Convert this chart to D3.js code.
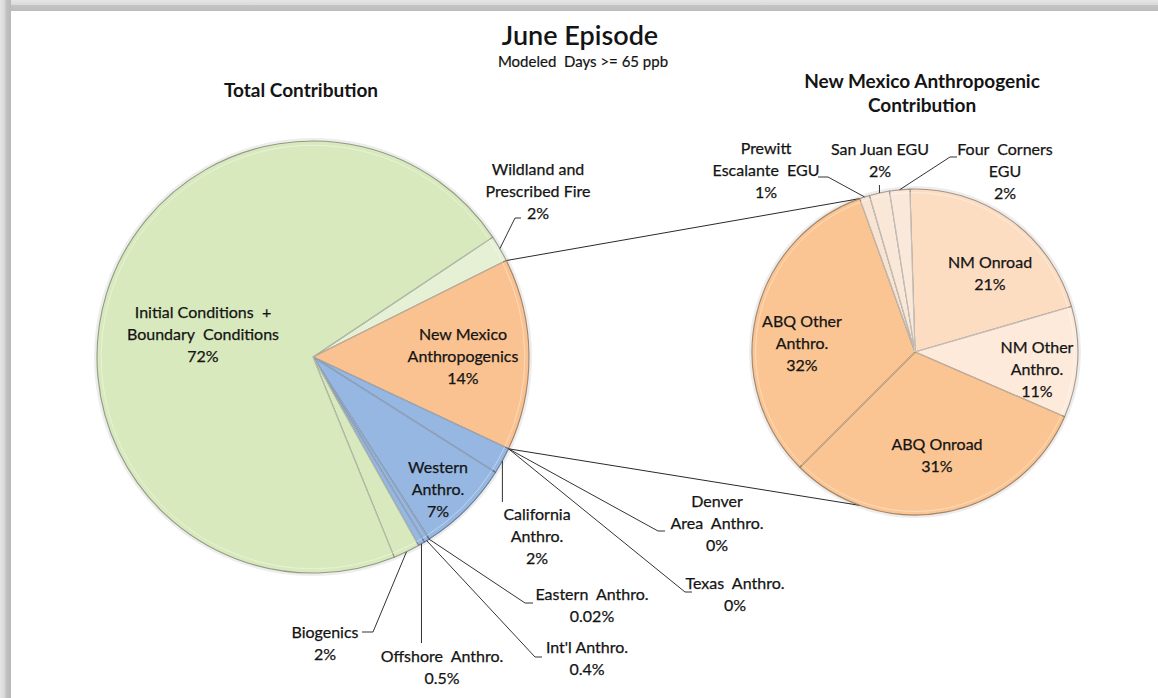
<!DOCTYPE html>
<html><head><meta charset="utf-8">
<script src="https://cdn.jsdelivr.net/npm/d3@7"></script>
<style>
body{margin:0;background:#fff;}
svg{display:block;}
text{font-family:Lato,"Open Sans",sans-serif;fill:#141414;}
</style>
</head><body>
<svg id="chart" width="1158" height="698"></svg>
<script>
// ---------- data ----------
const totalCategories = ["Wildland and Prescribed Fire","New Mexico Anthropogenics","Denver Area Anthro.","Texas Anthro.","California Anthro.","Western Anthro.","Eastern Anthro.","Int'l Anthro.","Offshore Anthro.","Biogenics","Initial Conditions + Boundary Conditions"];
const totalValues = [2, 14.4, 0, 0, 2, 7, 0.02, 0.4, 0.5, 2, 72];
const totalNameLines = [["Wildland and","Prescribed Fire"],["New Mexico","Anthropogenics"],["Denver","Area  Anthro."],["Texas  Anthro."],["California","Anthro."],["Western","Anthro."],["Eastern  Anthro."],["Int'l Anthro."],["Offshore  Anthro."],["Biogenics"],["Initial Conditions  +","Boundary  Conditions"]];
const totalColors = ["#e5f0d5","#fac291","#95b7e2","#95b7e2","#95b7e2","#95b7e2","#95b7e2","#95b7e2","#95b7e2","#d9e9be","#d9e9be"];

const nmCategories = ["NM Onroad","NM Other Anthro.","ABQ Onroad","ABQ Other Anthro.","Prewitt Escalante EGU","San Juan EGU","Four Corners EGU"];
const nmValues = [21, 11, 31, 32, 1, 2, 2];
const nmNameLines = [["NM Onroad"],["NM Other","Anthro."],["ABQ Onroad"],["ABQ Other","Anthro."],["Prewitt","Escalante  EGU"],["San Juan EGU"],["Four  Corners","EGU"]];
const nmColors = ["#fcddc2","#fdeadb","#fac593","#fac593","#f8e4d3","#f9e7d8","#fae9db"];

const titleText = "June Episode";
const subtitleText = "Modeled  Days >= 65 ppb";
const leftTitle = ["Total Contribution"];
const rightTitle = ["New Mexico Anthropogenic","Contribution"];

// ---------- layout ----------
const L = {cx:313, cy:357, r:216, start:56.3};
const R = {cx:915, cy:352, r:163, start:-1.8};
const lineH = 22;
const labelSize = 16;

const totalLabelLayout = {
  "Wildland and Prescribed Fire": {x:538, y:175, lead:[[515,218],[521,218]]},
  "New Mexico Anthropogenics": {x:463, y:340},
  "Denver Area Anthro.": {x:717, y:507, lead:[[658,531],[665,531]]},
  "Texas Anthro.": {x:735, y:589, lead:[[685,592],[692,592]]},
  "California Anthro.": {x:537, y:520, lead:"down", leadEnd:502},
  "Western Anthro.": {x:438, y:473},
  "Eastern Anthro.": {x:592, y:600, lead:[[525,603],[533,603]]},
  "Int'l Anthro.": {x:587, y:653, lead:[[535,657],[542,657]]},
  "Offshore Anthro.": {x:442, y:662, lead:"down", leadEnd:643},
  "Biogenics": {x:325, y:638, lead:[[373,632],[362,632]]},
  "Initial Conditions + Boundary Conditions": {x:203, y:318}
};
const nmLabelLayout = {
  "NM Onroad": {x:990, y:268},
  "NM Other Anthro.": {x:1037, y:353},
  "ABQ Onroad": {x:937, y:450},
  "ABQ Other Anthro.": {x:802, y:327},
  "Prewitt Escalante EGU": {x:766, y:154, lead:[[828,177],[818,177]]},
  "San Juan EGU": {x:880, y:155, lead:"up", leadEnd:185},
  "Four Corners EGU": {x:1005, y:155, lead:[[950,157],[957,157]]}
};

const svg = d3.select("#chart");
const defs = svg.append("defs");
const rad = d => d*Math.PI/180;
const fmtPct = v => v >= 1 ? Math.round(v)+"%" : (v===0 ? "0%" : v+"%");

// frame (shadow edges)
const gTop = defs.append("linearGradient").attr("id","gTop").attr("x1",0).attr("y1",0).attr("x2",0).attr("y2",1);
gTop.append("stop").attr("offset","0").attr("stop-color","#e6e6e6");
gTop.append("stop").attr("offset","0.45").attr("stop-color","#d9d9d9");
gTop.append("stop").attr("offset","0.5").attr("stop-color","#c4c4c4");
gTop.append("stop").attr("offset","1").attr("stop-color","#bcbcbc");
const gLeft = defs.append("linearGradient").attr("id","gLeft").attr("x1",0).attr("y1",0).attr("x2",1).attr("y2",0);
gLeft.append("stop").attr("offset","0").attr("stop-color","#e6e6e6");
gLeft.append("stop").attr("offset","0.45").attr("stop-color","#d6d6d6");
gLeft.append("stop").attr("offset","0.55").attr("stop-color","#c2c2c2");
gLeft.append("stop").attr("offset","1").attr("stop-color","#b8b8b8");
svg.append("rect").attr("x",0).attr("y",0).attr("width",1158).attr("height",11).attr("fill","url(#gTop)");
svg.append("rect").attr("x",0).attr("y",0).attr("width",11).attr("height",698).attr("fill","url(#gLeft)");

function makeGrad(id, color, cx, cy, r){
  const g = defs.append("radialGradient").attr("id",id).attr("gradientUnits","userSpaceOnUse")
    .attr("cx",cx).attr("cy",cy-r*0.45).attr("r",r*1.5);
  g.append("stop").attr("offset","0").attr("stop-color",d3.interpolateRgb(color,"#ffffff")(0.3));
  g.append("stop").attr("offset","0.5").attr("stop-color",color);
  g.append("stop").attr("offset","1").attr("stop-color",color);
}

function drawPie(cfg, cats, vals, colors, prefix){
  const pie = d3.pie().sort(null).value(d=>d)
    .startAngle(rad(cfg.start)).endAngle(rad(cfg.start+360));
  const arcs = pie(vals);
  const arc = d3.arc().innerRadius(0).outerRadius(cfg.r);
  const g = svg.append("g").attr("transform",`translate(${cfg.cx},${cfg.cy})`);
  g.append("circle").attr("r",cfg.r+1.5).attr("fill","none").attr("stroke","#000").attr("stroke-opacity",0.07).attr("stroke-width",3);
  arcs.forEach((a,i)=>{
    if (a.endAngle - a.startAngle <= 0) return;
    makeGrad(prefix+i, colors[i], cfg.cx, cfg.cy, cfg.r);
    g.append("path").attr("d",arc(a))
      .attr("fill",`url(#${prefix+i})`)
      .attr("stroke",d3.color(colors[i]).darker(1.6))
      .attr("stroke-opacity",0.8)
      .attr("stroke-width",1.1)
      .attr("stroke-linejoin","round");
    g.append("path").attr("d",d3.arc().innerRadius(0).outerRadius(cfg.r-2)(a))
      .attr("fill","none").attr("stroke","#ffffff").attr("stroke-opacity",0.5).attr("stroke-width",0.8)
      .attr("transform","scale(0.99)");
  });
  return arcs;
}

function pointAt(cfg, ang, rr){
  const r0 = rr===undefined ? cfg.r : rr;
  return [cfg.cx + r0*Math.sin(ang), cfg.cy - r0*Math.cos(ang)];
}

function drawLabel(lines, x, y){
  const t = svg.append("text").attr("text-anchor","middle").attr("font-size",labelSize)
    .attr("stroke","#141414").attr("stroke-width",0.25);
  lines.forEach((ln,k)=>{
    t.append("tspan").attr("x",x).attr("y",y+k*lineH).text(ln).style("white-space","pre");
  });
}

function drawLabels(cfg, arcs, cats, vals, nameLines, layout){
  arcs.forEach((a,i)=>{
    const lay = layout[cats[i]];
    const lines = nameLines[i].concat([fmtPct(vals[i])]);
    drawLabel(lines, lay.x, lay.y);
    if (lay.lead){
      const mid = (a.startAngle + a.endAngle)/2;
      const p0 = pointAt(cfg, mid);
      let pts;
      if (lay.lead === "down" || lay.lead === "up") pts = [p0, [p0[0], lay.leadEnd]];
      else pts = [p0].concat(lay.lead);
      svg.append("path").attr("d", d3.line()(pts)).attr("fill","none")
        .attr("stroke","#333").attr("stroke-width",1);
    }
  });
}

// connectors
const leftArcsTmp = d3.pie().sort(null).value(d=>d).startAngle(rad(L.start)).endAngle(rad(L.start+360))(totalValues);
const nmIdx = totalCategories.indexOf("New Mexico Anthropogenics");
const rightArcsTmp = d3.pie().sort(null).value(d=>d).startAngle(rad(R.start)).endAngle(rad(R.start+360))(nmValues);
const topTargetAng = rightArcsTmp[nmCategories.indexOf("Prewitt Escalante EGU")].startAngle - 2*Math.PI;
const cTop = [pointAt(L, leftArcsTmp[nmIdx].startAngle), pointAt(R, topTargetAng)];
const cBot = [pointAt(L, leftArcsTmp[nmIdx].endAngle), pointAt(R, Math.PI - topTargetAng)];
[cTop, cBot].forEach(seg=>{
  svg.append("path").attr("d", d3.line()(seg)).attr("stroke","#2a2a2a").attr("stroke-width",1).attr("fill","none");
});

const leftArcs = drawPie(L, totalCategories, totalValues, totalColors, "gl");
const rightArcs = drawPie(R, nmCategories, nmValues, nmColors, "gr");

drawLabels(L, leftArcs, totalCategories, totalValues, totalNameLines, totalLabelLayout);
drawLabels(R, rightArcs, nmCategories, nmValues, nmNameLines, nmLabelLayout);

// titles
svg.append("text").attr("x",580).attr("y",45).attr("text-anchor","middle").attr("font-size",27).attr("font-weight",600).text(titleText);
svg.append("text").attr("x",583).attr("y",67).attr("text-anchor","middle").attr("font-size",15)
  .attr("stroke","#141414").attr("stroke-width",0.2).style("white-space","pre").text(subtitleText);
svg.append("text").attr("x",301).attr("y",97).attr("text-anchor","middle").attr("font-size",19).attr("font-weight",700).text(leftTitle[0]);
rightTitle.forEach((t,k)=>{
  svg.append("text").attr("x",922).attr("y",88+k*24).attr("text-anchor","middle").attr("font-size",19).attr("font-weight",700).text(t);
});
</script>
</body></html>
